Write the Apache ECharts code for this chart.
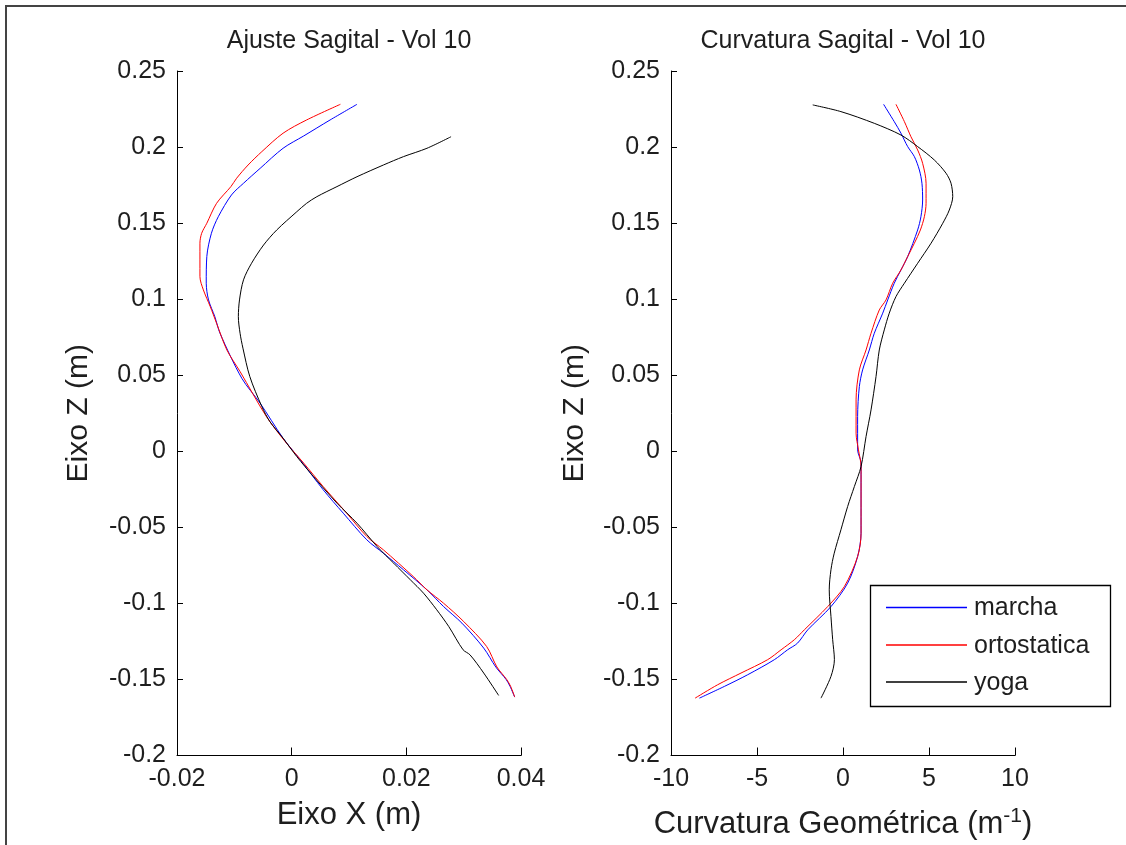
<!DOCTYPE html>
<html>
<head>
<meta charset="utf-8">
<script src="https://cdn.jsdelivr.net/npm/echarts@6/dist/echarts.min.js"></script>
<style>
html,body{margin:0;padding:0;background:#fff;}
#chart{width:1126px;height:845px;}
</style>
</head>
<body>
<div id="chart"></div>
<script>
// ---- Data ----
const seriesNames = ['marcha', 'ortostatica', 'yoga'];
const seriesColors = ['#0000ff', '#ff0000', '#000000'];

// Left plot: Ajuste Sagital (x = Eixo X (m), z = Eixo Z (m))
const ajusteMarchaZ = [0.2281,0.2178,0.2073,0.1992,0.1860,0.1762,0.1685,0.1542,0.1433,0.1280,0.1105,0.0995,0.0885,0.0776,0.0480,0.0316,0.0086,-0.0056,-0.0253,-0.0407,-0.0582,-0.0670,-0.0779,-0.0911,-0.1021,-0.1130,-0.1294,-0.1418,-0.1500,-0.1546,-0.1616];
const ajusteMarchaX = [0.0114,0.0067,0.0021,-0.0015,-0.0055,-0.0084,-0.0105,-0.0128,-0.0140,-0.0148,-0.0149,-0.0145,-0.0134,-0.0125,-0.0087,-0.0055,-0.0015,0.0015,0.0055,0.0090,0.0131,0.0160,0.0195,0.0236,0.0265,0.0297,0.0335,0.0356,0.0374,0.0381,0.0389];

const ajusteOrtoZ = [0.2281,0.2178,0.2091,0.1970,0.1882,0.1795,0.1740,0.1630,0.1499,0.1433,0.1368,0.1148,0.1061,0.0951,0.0842,0.0666,0.0524,0.0228,0.0053,-0.0078,-0.0232,-0.0407,-0.0560,-0.0648,-0.0823,-0.0911,-0.0999,-0.1119,-0.1283,-0.1418,-0.1500,-0.1546,-0.1616];
const ajusteOrtoX = [0.0085,0.0026,-0.0015,-0.0052,-0.0076,-0.0096,-0.0106,-0.0131,-0.0148,-0.0157,-0.0160,-0.0160,-0.0154,-0.0142,-0.0131,-0.0113,-0.0090,-0.0044,-0.0009,0.0021,0.0055,0.0096,0.0131,0.0160,0.0212,0.0236,0.0265,0.0300,0.0340,0.0358,0.0375,0.0382,0.0389];

const ajusteYogaZ = [0.2068,0.1992,0.1937,0.1882,0.1805,0.1740,0.1674,0.1630,0.1575,0.1455,0.1356,0.1236,0.1127,0.0995,0.0885,0.0776,0.0678,0.0491,0.0294,0.0195,0.0086,-0.0035,-0.0166,-0.0341,-0.0473,-0.0626,-0.0736,-0.0845,-0.0933,-0.1042,-0.1152,-0.1305,-0.1338,-0.1458,-0.1605];
const ajusteYogaX = [0.0278,0.0236,0.0195,0.0160,0.0114,0.0079,0.0044,0.0026,0.0009,-0.0026,-0.0049,-0.0070,-0.0084,-0.0091,-0.0093,-0.0090,-0.0085,-0.0073,-0.0052,-0.0038,-0.0015,0.0009,0.0038,0.0079,0.0114,0.0149,0.0178,0.0207,0.0230,0.0253,0.0274,0.0299,0.0311,0.0335,0.0361];

// Right plot: Curvatura Sagital (k = curvatura geométrica (1/m), z = Eixo Z (m))
const curvMarchaZ = [0.2281,0.2167,0.2091,0.2003,0.1937,0.1849,0.1762,0.1652,0.1542,0.1455,0.1280,0.1192,0.1105,0.0995,0.0908,0.0776,0.0666,0.0535,0.0425,0.0228,0.0009,-0.0078,-0.0538,-0.0692,-0.0867,-0.1021,-0.1174,-0.1261,-0.1305,-0.1370,-0.1469,-0.1546,-0.1623];
const curvMarchaK = [2.36,2.98,3.37,3.76,4.15,4.44,4.59,4.63,4.53,4.34,3.76,3.37,2.98,2.60,2.31,1.82,1.53,1.14,0.95,0.85,0.85,1.05,1.05,0.85,0.27,-0.70,-2.05,-2.64,-3.22,-3.99,-5.54,-6.90,-8.35];

const curvOrtoZ = [0.2281,0.2167,0.2068,0.1981,0.1893,0.1762,0.1630,0.1542,0.1455,0.1368,0.1280,0.1192,0.1105,0.0995,0.0929,0.0776,0.0666,0.0535,0.0338,0.0119,0.0009,-0.0100,-0.0540,-0.0692,-0.0889,-0.1021,-0.1174,-0.1239,-0.1305,-0.1370,-0.1458,-0.1535,-0.1623];
const curvOrtoK = [3.08,3.57,3.95,4.34,4.63,4.83,4.83,4.73,4.50,4.15,3.76,3.37,2.89,2.50,2.11,1.63,1.34,0.95,0.76,0.76,0.90,1.05,1.05,0.85,0.08,-0.89,-2.25,-2.83,-3.60,-4.38,-5.93,-7.29,-8.60];

const curvYogaZ = [0.2277,0.2233,0.2156,0.2079,0.2003,0.1915,0.1828,0.1762,0.1674,0.1586,0.1499,0.1368,0.1236,0.1105,0.1017,0.0908,0.0798,0.0666,0.0491,0.0272,0.0097,-0.0100,-0.0232,-0.0363,-0.0516,-0.0670,-0.0779,-0.0911,-0.1086,-0.1239,-0.1370,-0.1480,-0.1623];
const curvYogaK = [-1.76,-0.12,1.82,3.37,4.34,5.31,5.99,6.28,6.38,6.18,5.80,5.12,4.34,3.57,3.08,2.69,2.40,2.11,1.92,1.63,1.34,1.05,0.66,0.27,-0.12,-0.51,-0.70,-0.80,-0.70,-0.60,-0.50,-0.70,-1.28];

const titles = ['Ajuste Sagital - Vol 10', 'Curvatura Sagital - Vol 10'];
const zAxisName = 'Eixo Z (m)';
const xAxisNameLeft = 'Eixo X (m)';

// ---- Build ----
function zip(xs, zs) { return xs.map((x, i) => [x, zs[i]]); }

const FONT = '"Liberation Sans", Arial, Helvetica, sans-serif';
const TXT = '#1e1e1e';

const leftGrid = { left: 177, right: 605, top: 71, bottom: 89.5 };
const rightGrid = { left: 671, right: 111, top: 71, bottom: 89.5 };

function yAxisCfg(gridIndex, gap) {
  return {
    type: 'value', gridIndex: gridIndex, position: 'left',
    min: -0.2, max: 0.25, interval: 0.05,
    name: zAxisName, nameLocation: 'middle', nameGap: gap,
    nameTextStyle: { fontFamily: FONT, fontSize: 30, color: TXT },
    axisLine: { show: true, onZero: false, lineStyle: { color: '#000', width: 1 } },
    axisTick: { show: true, inside: true, length: 6, lineStyle: { color: '#000' } },
    axisLabel: { fontFamily: FONT, fontSize: 25, color: TXT, margin: 11, showMinLabel: true, showMaxLabel: true },
    splitLine: { show: false }
  };
}

function xAxisBase(gridIndex) {
  return {
    type: 'value', gridIndex: gridIndex, position: 'bottom',
    nameLocation: 'middle',
    axisLine: { show: true, onZero: false, lineStyle: { color: '#000', width: 1 } },
    axisTick: { show: true, inside: true, length: 8, lineStyle: { color: '#000' } },
    axisLabel: { fontFamily: FONT, fontSize: 25, color: TXT, margin: 11, showMinLabel: true, showMaxLabel: true },
    splitLine: { show: false }
  };
}

const xLeft = Object.assign(xAxisBase(0), {
  min: -0.02, max: 0.04, interval: 0.02,
  name: xAxisNameLeft, nameGap: 44,
  nameTextStyle: { fontFamily: FONT, fontSize: 31, color: TXT }
});
const xRight = Object.assign(xAxisBase(1), {
  min: -10, max: 10, interval: 5,
  name: 'Curvatura Geométrica (m{sup|-1})', nameGap: 50,
  nameTextStyle: { fontFamily: FONT, fontSize: 31, color: TXT,
    rich: { sup: { fontFamily: FONT, fontSize: 21, color: TXT, padding: [0, 0, 16, 0] } } }
});

// Legend box drawn as graphic elements (box, sample lines, labels)
const legendBox = { x: 870, y: 585, w: 240, h: 121 };
const legendRowY = [607.5, 645, 682];
const legendGraphics = [
  { type: 'rect', shape: { x: legendBox.x + 0.5, y: legendBox.y + 0.5, width: legendBox.w, height: legendBox.h },
    style: { fill: '#fff', stroke: '#000', lineWidth: 1.3 }, z: 100 }
];
seriesNames.forEach((n, i) => {
  legendGraphics.push({ type: 'line', shape: { x1: 886, y1: legendRowY[i], x2: 967, y2: legendRowY[i] },
    style: { stroke: seriesColors[i], lineWidth: 1.3 }, z: 101 });
  legendGraphics.push({ type: 'text', x: 974, y: legendRowY[i] + 1,
    style: { text: n, font: '25px ' + FONT, fill: TXT, textAlign: 'left', textVerticalAlign: 'middle' }, z: 101 });
});

const option = {
  animation: false,
  backgroundColor: '#fff',
  grid: [leftGrid, rightGrid],
  xAxis: [xLeft, xRight],
  yAxis: [yAxisCfg(0, 83), yAxisCfg(1, 81)],
  graphic: [
    { type: 'rect', shape: { x: 6, y: 6, width: 1300, height: 1000 }, style: { fill: 'none', stroke: '#444', lineWidth: 2 }, silent: true, z: -1 },
    { type: 'text', x: 349, y: 41, style: { text: titles[0], font: '25px ' + FONT, fill: TXT, textAlign: 'center', textVerticalAlign: 'middle' } },
    { type: 'text', x: 843, y: 41, style: { text: titles[1], font: '25px ' + FONT, fill: TXT, textAlign: 'center', textVerticalAlign: 'middle' } }
  ].concat(legendGraphics),
  series: []
};

const leftData = [zip(ajusteMarchaX, ajusteMarchaZ), zip(ajusteOrtoX, ajusteOrtoZ), zip(ajusteYogaX, ajusteYogaZ)];
const rightData = [zip(curvMarchaK, curvMarchaZ), zip(curvOrtoK, curvOrtoZ), zip(curvYogaK, curvYogaZ)];

[leftData, rightData].forEach((set, gi) => {
  set.forEach((d, si) => {
    option.series.push({
      name: seriesNames[si], type: 'line', xAxisIndex: gi, yAxisIndex: gi,
      data: d, symbol: 'none', smooth: 0.3,
      lineStyle: { color: seriesColors[si], width: 1 },
      itemStyle: { color: seriesColors[si] },
      clip: false
    });
  });
});

const chart = echarts.init(document.getElementById('chart'), null, { renderer: 'canvas' });
chart.setOption(option);
</script>
</body>
</html>
